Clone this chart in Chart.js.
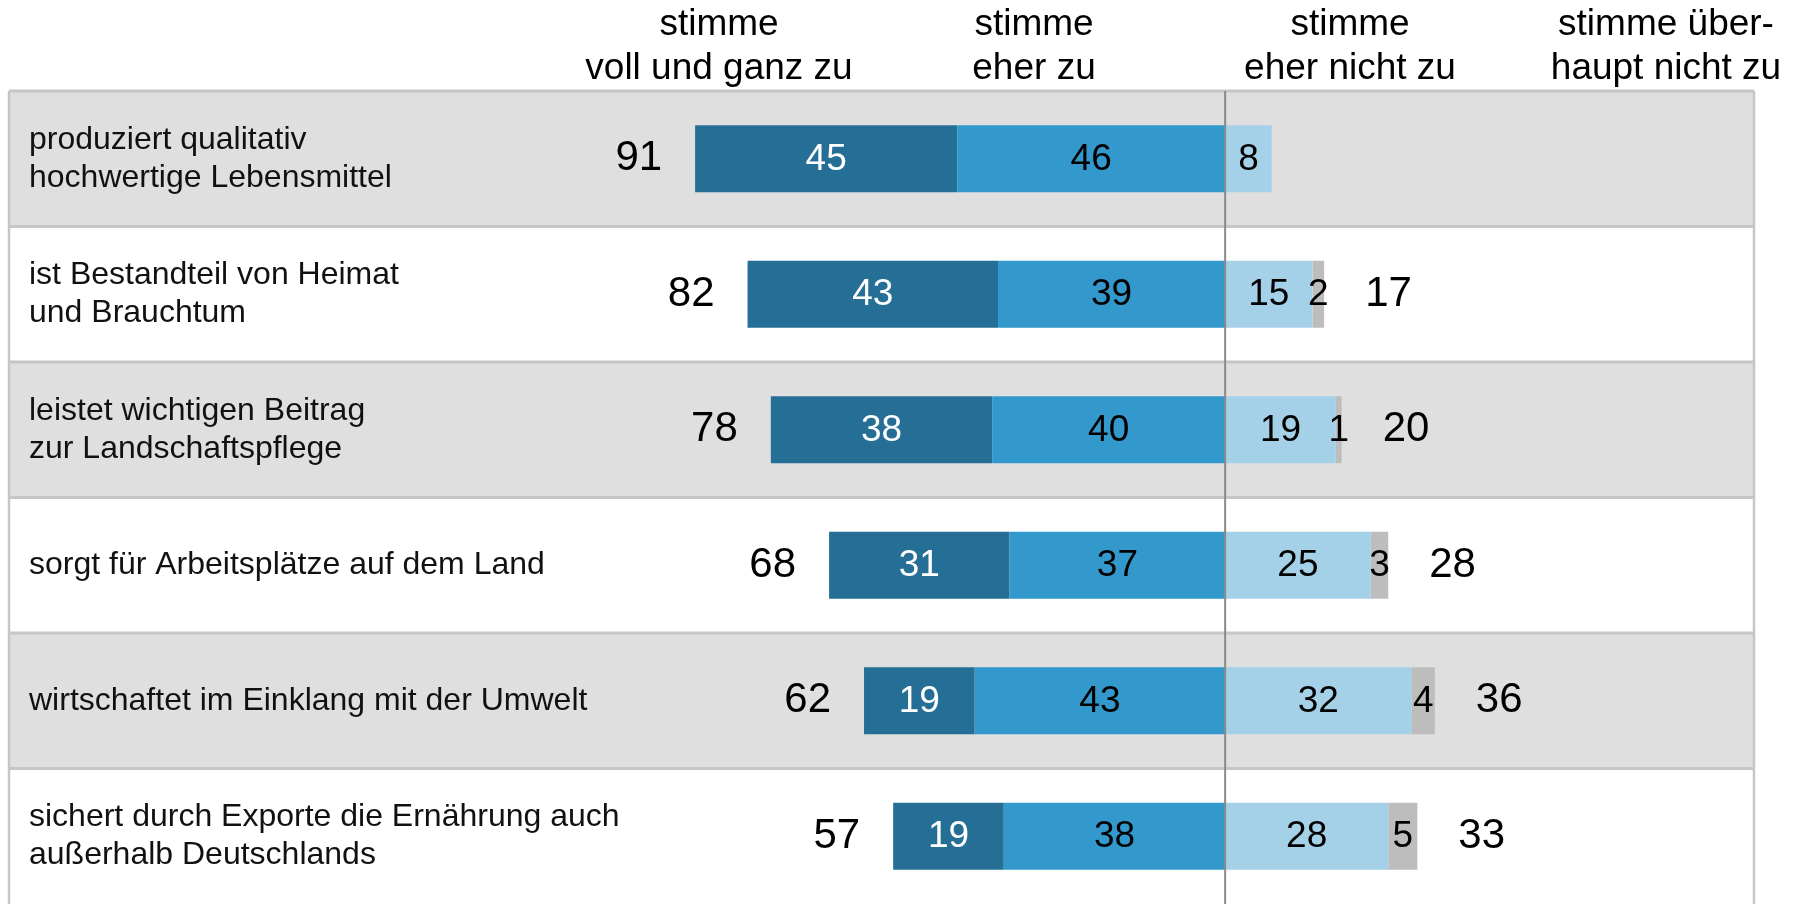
<!DOCTYPE html>
<html lang="de">
<head>
<meta charset="utf-8">
<title>Landwirtschaft – Zustimmung</title>
<script src="https://cdn.jsdelivr.net/npm/chart.js@4.4.1/dist/chart.umd.min.js"></script>
<style>
  html, body { margin: 0; padding: 0; background: #fff; }
  #wrap { position: relative; width: 1799px; height: 904px; }
</style>
</head>
<body>
<div id="wrap"><canvas id="chartAgrar"></canvas></div>
<script>
// Aussagen (Zeilen)
let statements = [
    ['produziert qualitativ', 'hochwertige Lebensmittel'],
    ['ist Bestandteil von Heimat', 'und Brauchtum'],
    ['leistet wichtigen Beitrag', 'zur Landschaftspflege'],
    ['sorgt für Arbeitsplätze auf dem Land'],
    ['wirtschaftet im Einklang mit der Umwelt'],
    ['sichert durch Exporte die Ernährung auch', 'außerhalb Deutschlands']
];
let seriesNames = [
    ['stimme', 'voll und ganz zu'],
    ['stimme', 'eher zu'],
    ['stimme', 'eher nicht zu'],
    ['stimme über-', 'haupt nicht zu']
];
// Werte in Prozent
let vollUndGanz = [45, 43, 38, 31, 19, 19];
let eherZu = [46, 39, 40, 37, 43, 38];
let eherNicht = [8, 15, 19, 25, 32, 28];
let ueberhauptNicht = [0, 2, 1, 3, 4, 5];
let totalZu = [91, 82, 78, 68, 62, 57];
let totalNicht = [null, 17, 20, 28, 36, 33];

const FONT = "'Liberation Sans', Arial, sans-serif";
Chart.defaults.font.family = FONT;

const tablePlugin = {
    id: 'table',
    beforeDraw(chart) {
        const ctx = chart.ctx;
        const a = chart.chartArea;
        const y = chart.scales.y;
        const n = statements.length;
        const band = (a.bottom - a.top) / n;
        ctx.save();
        for (let i = 0; i < n; i++) {
            if (i % 2 === 0) {
                ctx.fillStyle = '#dfdfdf';
                ctx.fillRect(a.left, y.getPixelForValue(i) - band / 2, a.right - a.left, band);
            }
        }
        ctx.strokeStyle = '#c6c6c6';
        ctx.lineWidth = 3;
        for (let i = 0; i < n; i++) {
            const top = y.getPixelForValue(i) - band / 2;
            ctx.beginPath();
            ctx.moveTo(a.left, top);
            ctx.lineTo(a.right, top);
            ctx.stroke();
        }
        ctx.lineWidth = 2.5;
        ctx.beginPath();
        ctx.moveTo(a.left, a.top);
        ctx.lineTo(a.left, a.bottom);
        ctx.moveTo(a.right, a.top);
        ctx.lineTo(a.right, a.bottom);
        ctx.stroke();

        // Zeilenbeschriftung
        ctx.fillStyle = '#111';
        ctx.font = '32px ' + FONT;
        ctx.textAlign = 'left';
        ctx.textBaseline = 'middle';
        const lh = 38;
        statements.forEach((lines, i) => {
            const cy = y.getPixelForValue(i);
            const start = cy - (lines.length - 1) * lh / 2;
            lines.forEach((t, k) => ctx.fillText(t, a.left + 20, start + k * lh));
        });
        ctx.restore();
    },
    afterDatasetsDraw(chart) {
        const ctx = chart.ctx;
        const a = chart.chartArea;
        const x = chart.scales.x;
        const zero = x.getPixelForValue(0);
        ctx.save();

        // Mittellinie
        ctx.strokeStyle = '#8a8a8a';
        ctx.lineWidth = 2;
        ctx.beginPath();
        ctx.moveTo(zero, a.top);
        ctx.lineTo(zero, a.bottom);
        ctx.stroke();

        // Werte in den Segmenten
        ctx.textAlign = 'center';
        ctx.textBaseline = 'middle';
        ctx.font = '37px ' + FONT;
        chart.data.datasets.forEach((ds, d) => {
            const meta = chart.getDatasetMeta(d);
            meta.data.forEach((el, i) => {
                const v = Math.abs(ds.data[i] || 0);
                if (!v) return;
                ctx.fillStyle = ds.textColor;
                ctx.fillText(v, (el.x + el.base) / 2, el.y + 1);
            });
        });

        // Summen
        ctx.font = '42px ' + FONT;
        const left = chart.getDatasetMeta(1).data;
        const mid = chart.getDatasetMeta(2).data;
        const right = chart.getDatasetMeta(3).data;
        ctx.fillStyle = '#000';
        for (let i = 0; i < statements.length; i++) {
            ctx.textAlign = 'right';
            ctx.fillText(totalZu[i], Math.min(left[i].x, left[i].base) - 33, left[i].y);
            if (totalNicht[i] != null) {
                const end = Math.max(mid[i].x, right[i].x);
                ctx.textAlign = 'left';
                ctx.fillText(totalNicht[i], end + 41, right[i].y);
            }
        }

        // Kopfzeile
        const headerX = [719, 1034, 1350, 1666];
        ctx.font = '37px ' + FONT;
        ctx.textAlign = 'center';
        seriesNames.forEach((lines, k) => {
            ctx.fillText(lines[0], headerX[k], a.top - 66);
            ctx.fillText(lines[1], headerX[k], a.top - 22);
        });
        ctx.restore();
    }
};

const ctx = document.getElementById('chartAgrar').getContext('2d');

const data = {
    labels: statements.map(l => l.join(' ')),
    datasets: [
        {
            label: seriesNames[1].join(' '),
            data: eherZu.map(v => -v),
            backgroundColor: '#3399cc',
            textColor: '#000'
        },
        {
            label: seriesNames[0].join(' '),
            data: vollUndGanz.map(v => -v),
            backgroundColor: '#256f96',
            textColor: '#fff'
        },
        {
            label: seriesNames[2].join(' '),
            data: eherNicht,
            backgroundColor: '#a5d1e8',
            textColor: '#000'
        },
        {
            label: seriesNames[3].join(''),
            data: ueberhauptNicht,
            backgroundColor: '#bdbdbd',
            textColor: '#000'
        }
    ]
};

const config = {
    type: 'bar',
    data: data,
    options: {
        indexAxis: 'y',
        responsive: true,
        maintainAspectRatio: false,
        animation: false,
        categoryPercentage: 0.494,
        barPercentage: 1,
        layout: {
            padding: { top: 91, left: 9, right: 45, bottom: 0 }
        },
        scales: {
            x: {
                stacked: true,
                display: false,
                min: -208.8,
                max: 90.8
            },
            y: {
                stacked: true,
                display: false
            }
        },
        plugins: {
            legend: { display: false },
            tooltip: { enabled: false }
        }
    },
    plugins: [tablePlugin]
};

new Chart(ctx, config);
</script>
</body>
</html>
